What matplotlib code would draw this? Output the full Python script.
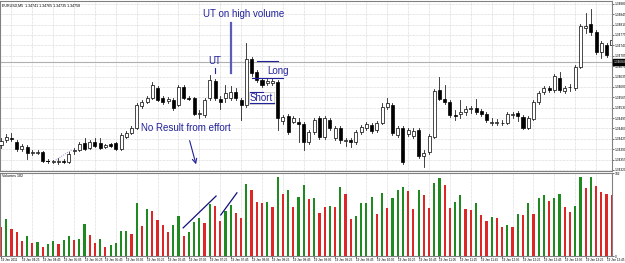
import matplotlib
matplotlib.use("Agg")
import matplotlib.pyplot as plt
from matplotlib.patches import Rectangle

# price in points above BASE (1 point = 0.00001)
BASE = 1.34320
POINT = 0.00001

opens = [84, 101, 108, 94, 71, 78, 57, 57, 61, 30,
         27, 27, 30, 27, 64, 67, 91, 74, 94, 91,
         79, 88, 91, 71, 111, 125, 142, 216, 229, 243,
         276, 243, 233, 236, 219, 280, 243, 243, 189, 185,
         243, 300, 239, 243, 243, 263, 236, 219, 374, 330,
         303, 293, 293, 297, 165, 182, 162, 162, 155, 94,
         128, 175, 111, 169, 108, 142, 98, 101, 94, 128,
         142, 152, 135, 158, 212, 219, 118, 142, 121, 115,
         135, 47, 61, 111, 270, 239, 229, 185, 189, 195,
         206, 209, 199, 189, 160, 160, 157, 158, 187, 192,
         179, 142, 172, 229, 263, 276, 270, 310, 266, 278,
         276, 347, 479, 492, 465, 398, 421, 421]
closes = [98, 111, 104, 71, 81, 57, 61, 61, 30, 29,
          29, 30, 27, 54, 67, 88, 71, 94, 81, 74,
          83, 81, 71, 118, 125, 142, 219, 229, 243, 286,
          236, 229, 239, 209, 280, 243, 239, 189, 192, 236,
          303, 243, 229, 259, 263, 243, 219, 374, 327, 303,
          286, 300, 300, 175, 179, 128, 175, 155, 94, 128,
          169, 111, 175, 142, 142, 101, 101, 94, 128, 145,
          155, 131, 158, 212, 226, 125, 142, 27, 135, 131,
          47, 57, 115, 266, 239, 229, 185, 182, 195, 206,
          209, 195, 189, 169, 163, 163, 160, 189, 190, 182,
          142, 175, 229, 259, 276, 270, 317, 270, 276, 281,
          347, 485, 485, 465, 398, 428, 388, 438]
highs = [108, 121, 125, 101, 88, 84, 67, 67, 64, 37,
         34, 40, 37, 61, 74, 94, 108, 101, 108, 108,
         88, 91, 94, 125, 131, 148, 226, 236, 249, 297,
         283, 249, 246, 243, 286, 286, 249, 246, 202, 243,
         320, 307, 249, 286, 283, 276, 243, 428, 381, 337,
         310, 307, 307, 303, 185, 189, 182, 175, 162, 135,
         175, 182, 182, 175, 148, 148, 108, 108, 135, 152,
         162, 158, 165, 226, 243, 226, 148, 148, 142, 142,
         142, 67, 121, 273, 313, 286, 236, 202, 236, 216,
         216, 239, 206, 195, 175, 172, 169, 195, 195, 199,
         185, 182, 236, 266, 283, 283, 324, 330, 283, 290,
         354, 492, 529, 543, 472, 435, 428, 445]
lows = [74, 94, 98, 64, 64, 37, 51, 54, 27, 24,
        24, 20, 24, 24, 54, 64, 67, 71, 78, 71,
        74, 78, 67, 67, 108, 121, 138, 209, 226, 239,
        233, 222, 226, 202, 216, 239, 236, 185, 175, 179,
        236, 236, 206, 229, 236, 236, 169, 212, 317, 297,
        280, 286, 286, 135, 155, 121, 158, 94, 67, 88,
        121, 104, 104, 135, 101, 91, 81, 78, 88, 121,
        135, 125, 128, 155, 206, 118, 111, 20, 115, 108,
        40, 10, 54, 108, 236, 222, 179, 169, 175, 185,
        192, 189, 182, 162, 152, 152, 152, 155, 175, 165,
        138, 138, 169, 222, 256, 263, 263, 263, 259, 266,
        270, 344, 462, 455, 391, 377, 381, 415]

volumes = [63, 80, 59, 52, 33, 43, 28, 30, 20, 26,
           33, 26, 35, 43, 35, 37, 69, 46, 28, 37,
           20, 24, 28, 54, 54, 48, 115, 65, 102, 98,
           78, 67, 52, 67, 87, 43, 52, 74, 82, 72,
           113, 109, 76, 98, 111, 93, 82, 156, 143, 117,
           115, 117, 106, 171, 135, 143, 106, 128, 154, 124,
           126, 93, 106, 109, 106, 150, 135, 80, 87, 115,
           116, 128, 91, 137, 104, 126, 143, 150, 141, 102,
           143, 132, 104, 158, 169, 154, 104, 117, 132, 102,
           100, 115, 89, 76, 85, 82, 63, 67, 63, 91,
           90, 115, 91, 126, 132, 119, 126, 135, 106, 95,
           109, 171, 148, 171, 152, 139, 135, 133]
vol_colors = ("rgrrrgrgrg" "grggrggrrg" "rggggrgrgr" "rrrggrgggr"
              "grrggrrgrr" "rgrgrgrggr" "grrgrgrrgg" "ggrgrgggrr"
              "grrggrrggr" "rgrrgrrgrg" "rgrggrggrr" "ggrgrrrr")

time_labels = ["19 Jan 2011"] + ["19 Jan %02d:%02d" % divmod(245 + 20 * k, 60) for k in range(1, 30)]
price_ticks = list(range(0, 561, 35))
bid_level = 364

navy = "#22229a"
small = dict(family=["Liberation Sans", "DejaVu Sans"])
n = len(opens)
idx = list(range(n))

fig = plt.figure(figsize=(6.25, 2.63), dpi=100)
ax = fig.add_axes([0, 0.3498, 0.9792, 0.6464])
axv = fig.add_axes([0, 0.0266, 0.9792, 0.3156], sharex=ax)

# candles
bw = 0.58
for i in idx:
    o, c, h, l = opens[i], closes[i], highs[i], lows[i]
    ax.plot([i, i], [l, h], color="#222222", lw=0.6, zorder=2)
    lo, hi = min(o, c), max(o, c)
    fc = "white" if c >= o else "black"
    if hi - lo < 2:
        ax.plot([i - bw / 2, i + bw / 2], [o, o], color="black", lw=0.7, zorder=3)
    else:
        ax.add_patch(Rectangle((i - bw / 2, lo), bw, hi - lo, facecolor=fc,
                               edgecolor="black", lw=0.5, zorder=3))

ax.axhline(bid_level, color="#b0b0b0", lw=0.8, zorder=1)
ax.set_xlim(-0.19, 117.05)
ax.set_ylim(-3.4, 569.5)
ax.set_yticks(price_ticks)
ax.set_yticklabels(["%.5f" % (BASE + p * POINT) for p in price_ticks], **small)
ax.yaxis.tick_right()
ax.tick_params(axis="y", labelsize=2.3, length=1.2, pad=0.6, width=0.4)
ax.tick_params(axis="x", length=0, labelbottom=False)
grid_x = list(range(2, n, 4))
for gx in grid_x:
    ax.axvline(gx, color="#cfcfcf", lw=0.5, ls=(0, (1, 1)), zorder=0)
    axv.axvline(gx, color="#cfcfcf", lw=0.5, ls=(0, (1, 1)), zorder=0)
for p in price_ticks:
    ax.axhline(p, color="#cfcfcf", lw=0.5, ls=(0, (1, 1)), zorder=0)
for s in ax.spines.values():
    s.set_color("#808080")
    s.set_linewidth(0.8)

# price box on axis
ax.text(1.003, (bid_level + 3.4) / 572.9, "%.5f" % (BASE + bid_level * POINT),
        transform=ax.transAxes, fontsize=2.3, color="white", va="center", ha="left",
        bbox=dict(boxstyle="square,pad=0.2", fc="black", ec="black"), clip_on=False, **small)

ax.text(0.004, 0.985, "EURUSD,M5  %.5f %.5f %.5f %.5f" % (
    BASE + opens[-1] * POINT, BASE + highs[-1] * POINT,
    BASE + lows[-1] * POINT, BASE + closes[-1] * POINT),
    transform=ax.transAxes, fontsize=2.6, va="top", ha="left", **small)

# annotations
tf = dict(color=navy, fontsize=7, family=["Liberation Sans", "DejaVu Sans"])
ax.text(38.7, 526, "UT on high volume", va="center", ha="left", **tf)
ax.plot([44.0, 44.0], [495, 327], color="#5c5cb8", lw=1.6, zorder=4)
ax.text(39.7, 367, "UT", va="center", ha="left", **tf)
ax.plot([41.0, 41.0], [344, 327], color=navy, lw=0.8, zorder=4)
ax.text(51.0, 334, "Long", va="center", ha="left", **tf)
ax.plot([49.0, 53.1], [367, 367], color=navy, lw=0.8, zorder=4)
ax.plot([48.1, 54.0], [310, 310], color=navy, lw=0.8, zorder=4)
ax.text(47.7, 243, "Short", va="center", ha="left", zorder=5,
        bbox=dict(boxstyle="square,pad=0.1", fc="white", ec="#c0c0c0", lw=0.5), **tf)
ax.plot([47.7, 52.3], [226, 226], color=navy, lw=0.8, zorder=6)
ax.plot([47.7, 50.2], [263, 263], color=navy, lw=0.8, zorder=6)
ax.text(26.8, 142, "No Result from effort", va="center", ha="left", **tf)
ax.annotate("", xy=(37.5, 10), xytext=(36.0, 108),
            arrowprops=dict(arrowstyle="->", color=navy, lw=0.8, mutation_scale=8))
ax.plot([10.5, 13.5], [34, 67], color="#7070c0", lw=0.6, ls=":", zorder=4)

# volumes
colmap = {"g": "#1f8a1f", "r": "#dd2626"}
axv.bar(idx, volumes, width=0.42, color=[colmap[ch] for ch in vol_colors], zorder=2)
axv.set_ylim(0, 180)
axv.set_yticks([0, 180])
axv.set_yticklabels(["0", "182"], **small)
axv.yaxis.tick_right()
axv.tick_params(axis="y", labelsize=2.3, length=1.2, pad=0.6, width=0.4)
axv.set_xticks(list(range(0, n, 4)))
axv.set_xticklabels(time_labels, ha="left", **small)
axv.tick_params(axis="x", labelsize=2.2, length=1.2, pad=0.5, width=0.4)
for s in axv.spines.values():
    s.set_color("#808080")
    s.set_linewidth(0.8)
axv.text(0.004, 0.985, "Volumes 182", transform=axv.transAxes, fontsize=2.6,
         va="top", ha="left", **small)
axv.plot([34.9, 41.2], [61, 130], color="#10107a", lw=0.9, zorder=4)
axv.plot([42.1, 45.2], [89, 137], color="#10107a", lw=0.9, zorder=4)

fig.savefig("out.png", dpi=100)
